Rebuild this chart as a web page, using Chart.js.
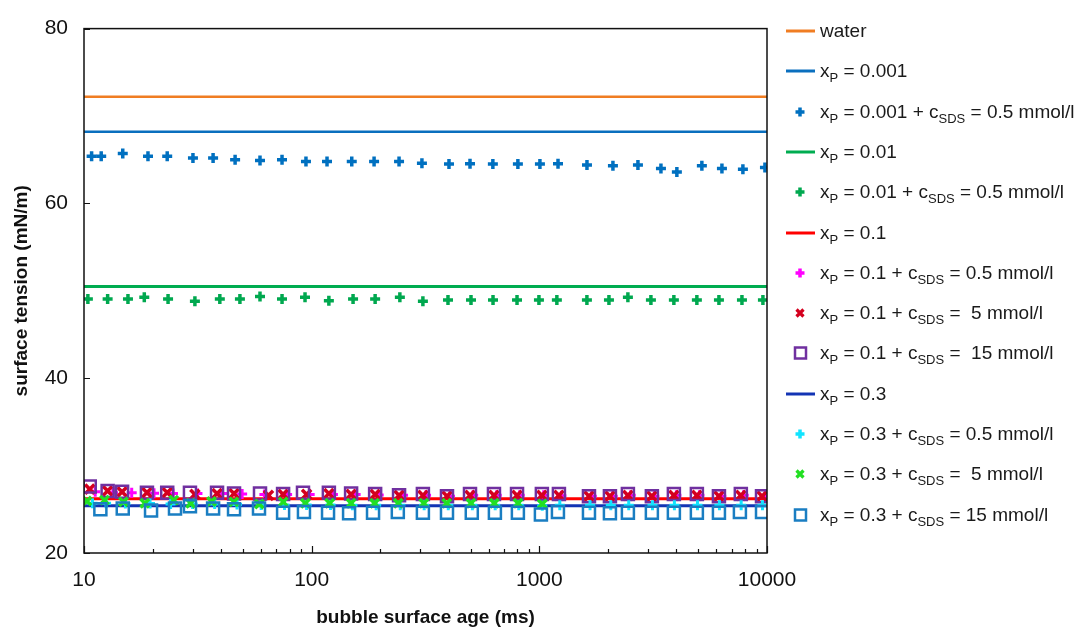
<!DOCTYPE html>
<html>
<head>
<meta charset="utf-8">
<script src="https://cdn.jsdelivr.net/npm/chart.js@4"></script>
<style>
  html, body { margin: 0; padding: 0; background: #fff; overflow: hidden; }
  #wrap { position: relative; width: 1077px; height: 630px; }
  #c { position: absolute; left: 0; top: 0; }
  #legend { position: absolute; left: 0; top: 0; width: 1077px; height: 630px; pointer-events: none;
    font-family: "Liberation Sans", Arial, sans-serif; font-size: 19px; color: #1a1a1a; }
  .row { position: absolute; left: 784px; height: 24px; display: flex; align-items: center; white-space: nowrap; }
  .row svg { width: 34px; height: 20px; flex: none; }
  .row span.t { margin-left: 2px; }
  sub { font-size: 13px; vertical-align: -5px; line-height: 0; }
</style>
</head>
<body>
<div id="wrap">
  <canvas id="c" width="1077" height="630"></canvas>
  <div id="legend"></div>
</div>
<script>
// ---------------- data ----------------
const xRange = [10, 10000];
const yWater = [72.2, 72.2];
const yP0001 = [68.2, 68.2];
const yP001 = [50.5, 50.5];
const yP01 = [26.2, 26.2];
const yP03 = [25.4, 25.4];

// x_P = 0.001 + c_SDS = 0.5 mmol/l
const xP0001S05 = [10.8, 11.9, 14.8, 19.1, 23.2, 30.1, 36.9, 46.1, 59.3, 74.1, 94.4, 116.8, 150, 188, 242, 305,
  401, 496, 625, 805, 1006, 1208, 1619, 2105, 2711, 3421, 4019, 5175, 6339, 7837, 9795];
const yP0001S05 = [65.4, 65.4, 65.7, 65.4, 65.4, 65.2, 65.2, 65.0, 64.9, 65.0, 64.8, 64.8, 64.8, 64.8, 64.8, 64.6,
  64.5, 64.55, 64.5, 64.5, 64.5, 64.55, 64.4, 64.3, 64.4, 64.0, 63.6, 64.3, 64.0, 63.9, 64.1];

// x_P = 0.01 + c_SDS = 0.5 mmol/l
const xP001S05 = [10.4, 12.7, 15.6, 18.4, 23.4, 30.7, 39.5, 48.4, 59.3, 74.1, 93.5, 119, 152, 190, 244, 308,
  397, 501, 626, 798, 996, 1194, 1618, 2022, 2449, 3091, 3899, 4920, 6150, 7762, 9596];
const yP001S05 = [49.05, 49.05, 49.05, 49.25, 49.05, 48.8, 49.05, 49.05, 49.35, 49.05, 49.25, 48.85, 49.05, 49.05, 49.25, 48.8,
  48.95, 48.95, 48.95, 48.95, 48.95, 48.95, 48.95, 48.95, 49.25, 48.95, 48.95, 48.95, 48.95, 48.95, 48.95];

// x_P = 0.1 + c_SDS = 0.5 mmol/l
const xP01S05 = [11.2, 13.4, 16.2, 20.3, 24.6, 31.5, 40.5, 49.5, 62.0, 78.0, 98.0, 124, 156, 197, 252, 318,
  405, 512, 650, 820, 1045, 1250, 1700, 2100, 2520, 3200, 4000, 5050, 6300, 7900, 9800];
const yP01S05 = [27.0, 26.9, 26.9, 26.85, 26.8, 26.8, 26.8, 26.75, 26.7, 26.7, 26.7, 26.7, 26.7, 26.65, 26.6, 26.6,
  26.5, 26.6, 26.6, 26.6, 26.6, 26.55, 26.5, 26.5, 26.6, 26.5, 26.6, 26.6, 26.5, 26.6, 26.5];

// x_P = 0.1 + c_SDS = 5 mmol/l
const xP01S5 = [10.6, 12.7, 14.7, 18.9, 23.2, 30.7, 38.4, 45.6, 64.6, 74.9, 95.0, 119, 149, 190, 242, 308,
  393, 496, 632, 798, 1026, 1219, 1652, 2042, 2449, 3121, 3899, 4920, 6150, 7674, 9508];
const yP01S5 = [27.3, 27.1, 27.0, 26.9, 26.9, 26.7, 26.8, 26.8, 26.6, 26.7, 26.7, 26.8, 26.7, 26.7, 26.6, 26.6,
  26.5, 26.6, 26.6, 26.6, 26.6, 26.6, 26.5, 26.5, 26.6, 26.5, 26.6, 26.6, 26.5, 26.6, 26.5];

// x_P = 0.1 + c_SDS = 15 mmol/l
const xP01S15 = [10.6, 12.7, 14.7, 18.9, 23.2, 29.2, 38.4, 45.6, 59.3, 74.9, 91.6, 119, 149, 190, 242, 308,
  393, 496, 632, 798, 1026, 1219, 1652, 2042, 2449, 3121, 3899, 4920, 6150, 7674, 9508];
const yP01S15 = [27.6, 27.1, 27.0, 26.9, 26.9, 26.9, 26.9, 26.8, 26.8, 26.75, 26.9, 26.9, 26.8, 26.75, 26.6, 26.75,
  26.5, 26.75, 26.75, 26.75, 26.75, 26.75, 26.5, 26.5, 26.75, 26.5, 26.75, 26.75, 26.5, 26.75, 26.5];

// x_P = 0.3 + c_SDS = 0.5 mmol/l
const xP03S05 = [10.9, 12.5, 15.2, 19.5, 24.0, 30.0, 37.5, 47.0, 60.0, 76.0, 95.0, 121, 151, 192, 245, 312,
  398, 508, 640, 812, 1030, 1230, 1670, 2060, 2470, 3140, 3920, 4950, 6180, 7700, 9550];
const yP03S05 = [25.7, 25.7, 25.65, 25.65, 25.6, 25.6, 25.6, 25.55, 25.5, 25.5, 25.5, 25.5, 25.45, 25.45, 25.45, 25.45,
  25.45, 25.45, 25.45, 25.45, 25.4, 25.45, 25.45, 25.45, 25.45, 25.45, 25.45, 25.45, 25.45, 25.45, 25.45];

// x_P = 0.3 + c_SDS = 5 mmol/l
const xP03S5 = [10.3, 12.3, 14.9, 18.5, 24.8, 29.4, 36.3, 45.5, 58.9, 75.0, 93.8, 120, 149, 189, 240, 311,
  392, 501, 634, 806, 1030];
const yP03S5 = [25.95, 26.05, 25.85, 25.7, 26.05, 25.7, 25.9, 25.85, 25.6, 25.85, 25.7, 25.7, 25.7, 25.7, 25.7, 25.7,
  25.7, 25.7, 25.7, 25.7, 25.6];

// x_P = 0.3 + c_SDS = 15 mmol/l
const xP03S15 = [11.8, 14.8, 19.7, 25.1, 29.2, 36.9, 45.6, 58.7, 74.9, 92.5, 118, 146, 186, 239, 308,
  393, 505, 638, 805, 1016, 1207, 1652, 2042, 2449, 3121, 3899, 4920, 6150, 7603, 9508];
const yP03S15 = [25.0, 25.1, 24.85, 25.1, 25.35, 25.1, 25.0, 25.1, 24.6, 24.7, 24.6, 24.55, 24.6, 24.7, 24.6,
  24.6, 24.6, 24.6, 24.6, 24.4, 24.7, 24.6, 24.55, 24.6, 24.6, 24.6, 24.6, 24.6, 24.7, 24.7];

const yTicks = [20, 40, 60, 80];
const xDecades = [10, 100, 1000, 10000];

// ---------------- chart ----------------
function pts(xs, ys) { return xs.map((x, i) => ({ x: x, y: ys[i] })); }

const C = {
  water: '#F07D22', blue: '#0A6FBE', green: '#00AC50', red: '#FF0000', navy: '#1334B4',
  blueMk: '#0070C0', greenMk: '#00A84F', magenta: '#FF00FF', redX: '#D4001E', purple: '#7030A0',
  cyan: '#10E4FF', lime: '#22E022', blueSq: '#1A7EC2'
};

function lineDs(label, ys, color, w) {
  return { label, data: pts(xRange, ys), showLine: true, borderColor: color, borderWidth: w,
    pointRadius: 0, pointHoverRadius: 0, fill: false };
}
function mkDs(label, xs, ys, color, style, r, w) {
  return { label, data: pts(xs, ys), showLine: false, borderColor: color, backgroundColor: 'rgba(0,0,0,0)',
    pointStyle: style, pointRadius: r, pointHoverRadius: r, pointBorderWidth: w, borderWidth: w };
}

const datasets = [
  lineDs('water', yWater, C.water, 2.5),
  lineDs('xP 0.001', yP0001, C.blue, 2.5),
  mkDs('xP 0.001 + SDS 0.5', xP0001S05, yP0001S05, C.blueMk, 'cross', 5, 3.5),
  lineDs('xP 0.01', yP001, C.green, 3),
  mkDs('xP 0.01 + SDS 0.5', xP001S05, yP001S05, C.greenMk, 'cross', 5, 3.5),
  lineDs('xP 0.1', yP01, C.red, 3),
  mkDs('xP 0.1 + SDS 0.5', xP01S05, yP01S05, C.magenta, 'cross', 5, 3),
  mkDs('xP 0.1 + SDS 5', xP01S5, yP01S5, C.redX, 'crossRot', 6.5, 3.5),
  mkDs('xP 0.1 + SDS 15', xP01S15, yP01S15, C.purple, 'rect', 8.5, 2.5),
  lineDs('xP 0.3', yP03, C.navy, 3),
  mkDs('xP 0.3 + SDS 0.5', xP03S05, yP03S05, C.cyan, 'cross', 5, 3),
  mkDs('xP 0.3 + SDS 5', xP03S5, yP03S5, C.lime, 'crossRot', 6, 3.5),
  mkDs('xP 0.3 + SDS 15', xP03S15, yP03S15, C.blueSq, 'rect', 8.5, 2.5)
];
datasets.forEach((d, i) => { d.order = datasets.length - i; });

const frame = {
  id: 'frame',
  afterDraw(chart) {
    const { ctx, chartArea: a, scales } = chart;
    ctx.save();
    ctx.strokeStyle = '#111';
    ctx.lineWidth = 1.5;
    ctx.strokeRect(a.left, a.top, a.right - a.left, a.bottom - a.top);
    ctx.lineWidth = 1.2;
    ctx.beginPath();
    for (let d = 0; d < xDecades.length; d++) {
      const base = xDecades[d];
      for (let m = 1; m <= 9; m++) {
        const v = base * m;
        if (v > 10000) break;
        const px = Math.round(scales.x.getPixelForValue(v)) + 0.5;
        const len = m === 1 ? 7 : 4;
        ctx.moveTo(px, a.bottom);
        ctx.lineTo(px, a.bottom - len);
      }
    }
    yTicks.forEach(v => {
      const py = Math.round(scales.y.getPixelForValue(v)) + 0.5;
      ctx.moveTo(a.left, py);
      ctx.lineTo(a.left + 6, py);
    });
    ctx.stroke();
    ctx.restore();
  }
};

new Chart(document.getElementById('c'), {
  type: 'scatter',
  data: { datasets },
  options: {
    responsive: false,
    animation: false,
    devicePixelRatio: 1,
    layout: { padding: { top: 27, right: 310, bottom: 0, left: 0 } },
    plugins: { legend: { display: false }, tooltip: { enabled: false } },
    scales: {
      x: {
        type: 'logarithmic', min: 10, max: 10000,
        grid: { display: false, drawTicks: false },
        border: { display: false },
        afterBuildTicks(scale) { scale.ticks = xDecades.map(v => ({ value: v })); },
        afterFit(scale) { scale.height = 77; },
        ticks: {
          autoSkip: false, maxRotation: 0, padding: 15, color: '#111',
          font: { family: '"Liberation Sans", Arial, sans-serif', size: 21 },
          callback: (v) => String(v)
        },
        title: {
          display: true, text: 'bubble surface age (ms)', color: '#111',
          font: { family: '"Liberation Sans", Arial, sans-serif', size: 19, weight: 'bold' },
          padding: { top: 0, bottom: 1 }
        }
      },
      y: {
        type: 'linear', min: 20, max: 80,
        grid: { display: false, drawTicks: false },
        border: { display: false },
        afterBuildTicks(scale) { scale.ticks = yTicks.map(v => ({ value: v })); },
        afterFit(scale) { scale.width = 84; },
        ticks: {
          padding: 16, color: '#111',
          font: { family: '"Liberation Sans", Arial, sans-serif', size: 21 }
        },
        title: {
          display: true, text: 'surface tension (mN/m)', color: '#111',
          font: { family: '"Liberation Sans", Arial, sans-serif', size: 19, weight: 'bold' },
          padding: { top: 10, bottom: 0 }
        }
      }
    }
  },
  plugins: [frame]
});

// ---------------- legend (HTML, for subscripts) ----------------
const legendRows = [
  { kind: 'line', color: C.water, html: 'water' },
  { kind: 'line', color: C.blue, html: 'x<sub>P</sub> = 0.001' },
  { kind: 'plus', color: C.blueMk, html: 'x<sub>P</sub> = 0.001 + c<sub>SDS</sub> = 0.5 mmol/l' },
  { kind: 'line', color: C.green, html: 'x<sub>P</sub> = 0.01' },
  { kind: 'plus', color: C.greenMk, html: 'x<sub>P</sub> = 0.01 + c<sub>SDS</sub> = 0.5 mmol/l' },
  { kind: 'line', color: C.red, html: 'x<sub>P</sub> = 0.1' },
  { kind: 'plus', color: C.magenta, html: 'x<sub>P</sub> = 0.1 + c<sub>SDS</sub> = 0.5 mmol/l' },
  { kind: 'x', color: C.redX, html: 'x<sub>P</sub> = 0.1 + c<sub>SDS</sub> = &nbsp;5 mmol/l' },
  { kind: 'sq', color: C.purple, html: 'x<sub>P</sub> = 0.1 + c<sub>SDS</sub> = &nbsp;15 mmol/l' },
  { kind: 'line', color: C.navy, html: 'x<sub>P</sub> = 0.3' },
  { kind: 'plus', color: C.cyan, html: 'x<sub>P</sub> = 0.3 + c<sub>SDS</sub> = 0.5 mmol/l' },
  { kind: 'x', color: C.lime, html: 'x<sub>P</sub> = 0.3 + c<sub>SDS</sub> = &nbsp;5 mmol/l' },
  { kind: 'sq', color: C.blueSq, html: 'x<sub>P</sub> = 0.3 + c<sub>SDS</sub> = 15 mmol/l' }
];
function symbol(kind, color) {
  if (kind === 'line') return `<svg viewBox="0 0 34 20"><line x1="2" y1="10" x2="31" y2="10" stroke="${color}" stroke-width="3"/></svg>`;
  if (kind === 'plus') return `<svg viewBox="0 0 34 20"><path d="M16 5.5V14.5M11.5 10H20.5" stroke="${color}" stroke-width="3.5"/></svg>`;
  if (kind === 'x') return `<svg viewBox="0 0 34 20"><path d="M12.5 6.5L19.5 13.5M19.5 6.5L12.5 13.5" stroke="${color}" stroke-width="3.2"/></svg>`;
  return `<svg viewBox="0 0 34 20"><rect x="11" y="4.5" width="11" height="11" fill="none" stroke="${color}" stroke-width="2.5"/></svg>`;
}
const legend = document.getElementById('legend');
legendRows.forEach((r, i) => {
  const div = document.createElement('div');
  div.className = 'row';
  div.style.top = (19 + i * 40.3) + 'px';
  div.innerHTML = symbol(r.kind, r.color) + '<span class="t">' + r.html + '</span>';
  legend.appendChild(div);
});
</script>
</body>
</html>
